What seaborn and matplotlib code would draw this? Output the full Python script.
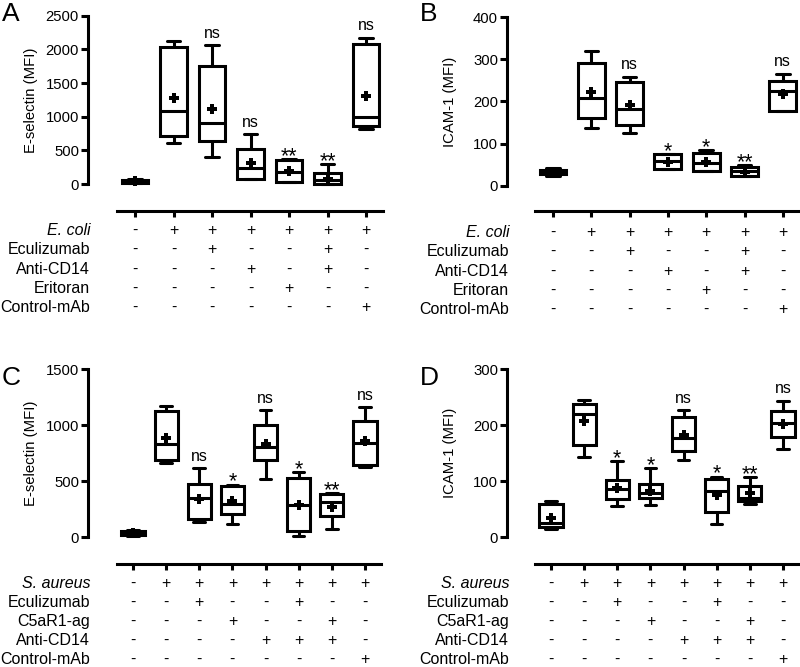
import numpy as np
import pandas as pd
import matplotlib
matplotlib.use("Agg")
import matplotlib.pyplot as plt
import seaborn as sns

sns.set_theme(style="ticks")
plt.rcParams["font.family"] = ["Liberation Sans", "DejaVu Sans"]

# ---------------- data ----------------
# Panel A: E-selectin, E. coli
a_min = [15, 604, 406, 74, 25, 5, 812]
a_q1 = [20, 717, 634, 74, 25, 5, 861]
a_med = [40, 1084, 901, 233, 174, 59, 1000]
a_q3 = [60, 2035, 1757, 524, 352, 168, 2075]
a_max = [70, 2128, 2060, 738, 367, 292, 2172]
a_mean = [40, 1281, 1109, 307, 190, 70, 1311]
a_sig = ["", "", "ns", "ns", "**", "**", "ns"]

# Panel B: ICAM-1, E. coli
b_min = [24, 138, 126, 40, 36, 24, 177]
b_q1 = [27, 161, 144, 40, 36, 24, 177]
b_med = [32, 209, 182, 58, 54, 35, 226]
b_q3 = [38, 291, 247, 75, 78, 44, 249]
b_max = [41, 320, 258, 75, 84, 49, 265]
b_mean = [31, 223, 191, 56, 56, 32, 217]
b_sig = ["", "", "ns", "*", "*", "**", "ns"]

# Panel C: E-selectin, S. aureus
c_min = [10, 661, 134, 116, 518, 14, 74, 630]
c_q1 = [18, 690, 163, 208, 690, 56, 193, 645]
c_med = [38, 833, 348, 297, 809, 288, 312, 839]
c_q3 = [58, 1128, 476, 458, 1003, 527, 384, 1038]
c_max = [68, 1171, 616, 470, 1134, 580, 396, 1160]
c_mean = [40, 884, 339, 320, 833, 290, 273, 860]
c_sig = ["", "", "ns", "*", "ns", "*", "**", "ns"]

# Panel D: ICAM-1, S. aureus
d_min = [15, 143, 56, 58, 138, 24, 60, 158]
d_q1 = [18, 164, 69, 70, 155, 46, 65, 179]
d_med = [26, 220, 86, 80, 177, 83, 71, 204]
d_q3 = [60, 238, 102, 96, 214, 105, 92, 226]
d_max = [65, 246, 136, 123, 227, 108, 107, 244]
d_mean = [35, 207, 88, 83, 183, 76, 79, 202]
d_sig = ["", "", "*", "*", "ns", "*", "**", "ns"]

ecoli_rows = ["E. coli", "Eculizumab", "Anti-CD14", "Eritoran", "Control-mAb"]
ecoli_table = [
    "-++++++",
    "--+--+-",
    "---+-+-",
    "----+--",
    "------+",
]
saureus_rows = ["S. aureus", "Eculizumab", "C5aR1-ag", "Anti-CD14", "Control-mAb"]
saureus_table = [
    "-+++++++",
    "--+--+--",
    "---+--+-",
    "----+++-",
    "-------+",
]

# ---------------- layout (pixels) ----------------
W, H = 800, 667
fig = plt.figure(figsize=(W / 100, H / 100), dpi=100)
LW = 2.2


def px_axes(left, top, right, bottom):
    return fig.add_axes([left / W, 1 - bottom / H, (right - left) / W, (bottom - top) / H])


panels = [
    dict(letter="A", stats=(a_min, a_q1, a_med, a_q3, a_max), mean=a_mean, sig=a_sig,
         ylabel="E-selectin (MFI)", ymax=2500, ystep=500,
         rows=ecoli_rows, table=ecoli_table,
         box=(88, 15.7, 383, 184), x0=135, dx=38.5, line=(117, 383), spine_y=211,
         row0=19.5, step=19.3, label_right=38, letter_xy=(2, 2)),
    dict(letter="B", stats=(b_min, b_q1, b_med, b_q3, b_max), mean=b_mean, sig=b_sig,
         ylabel="ICAM-1 (MFI)", ymax=400, ystep=100,
         rows=ecoli_rows, table=ecoli_table,
         box=(507, 17.3, 800, 185.7), x0=553, dx=38.3, line=(535, 800), spine_y=211,
         row0=21.5, step=19.3, label_right=457, letter_xy=(420, 2)),
    dict(letter="C", stats=(c_min, c_q1, c_med, c_q3, c_max), mean=c_mean, sig=c_sig,
         ylabel="E-selectin (MFI)", ymax=1500, ystep=500,
         rows=saureus_rows, table=saureus_table,
         box=(88, 369.3, 381, 537.3), x0=133, dx=33.14, line=(117, 381), spine_y=564,
         row0=19.5, step=19.0, label_right=38, letter_xy=(2, 366)),
    dict(letter="D", stats=(d_min, d_q1, d_med, d_q3, d_max), mean=d_mean, sig=d_sig,
         ylabel="ICAM-1 (MFI)", ymax=300, ystep=100,
         rows=saureus_rows, table=saureus_table,
         box=(507, 369.3, 800, 537.3), x0=551, dx=33.14, line=(535, 800), spine_y=564,
         row0=19.5, step=19.0, label_right=457, letter_xy=(420, 366)),
]

PT = 0.72        # points per pixel

for p in panels:
    left, top, right, bottom = p["box"]
    ax = px_axes(left, top, right, bottom)
    n = len(p["mean"])
    groups = [f"g{i}" for i in range(n)]
    mn, q1, md, q3, mx = p["stats"]
    df = pd.DataFrame({
        "group": np.repeat(groups, 5),
        "value": np.column_stack([mn, q1, md, q3, mx]).ravel(),
    })
    sns.boxplot(data=df, x="group", y="value", order=groups, whis=(0, 100),
                width=0.7, color="white", linecolor="black", linewidth=LW,
                showfliers=False, ax=ax)
    mdf = pd.DataFrame({"group": groups, "mean": p["mean"]})
    sns.pointplot(data=mdf, x="group", y="mean", order=groups, color="black",
                  marker="P", linestyle="none", markersize=7, markeredgewidth=0,
                  errorbar=None, ax=ax, zorder=5)

    # axes limits & spines
    xl = (left - p["x0"]) / p["dx"]
    xr = (right - p["x0"]) / p["dx"]
    ax.set_xlim(xl, xr)
    ax.set_ylim(0, p["ymax"])
    ax.set_yticks(np.arange(0, p["ymax"] + 1, p["ystep"]))
    ax.set_xticks(range(n))
    ax.set_xticklabels([""] * n)
    ax.set_xlabel("")
    for s in ("top", "right"):
        ax.spines[s].set_visible(False)
    for s in ("left", "bottom"):
        ax.spines[s].set_linewidth(LW)
        ax.spines[s].set_color("black")
    ax.spines["bottom"].set_position(("outward", (p["spine_y"] - bottom) * PT))
    ax.spines["bottom"].set_bounds((p["line"][0] - p["x0"]) / p["dx"],
                                   (p["line"][1] - p["x0"]) / p["dx"])
    ax.tick_params(axis="y", length=5, width=LW, pad=1.5, labelsize=10.7,
                   colors="black", direction="out")
    ax.tick_params(axis="x", length=4.5, width=LW, direction="out", colors="black")
    ax.set_facecolor("none")

    ax.set_ylabel(p["ylabel"], fontsize=10.7, color="black")
    ax.yaxis.set_label_coords((p["label_right"] - left) / (right - left), 0.5)

    # significance labels
    for i, (lab, top_val) in enumerate(zip(p["sig"], mx)):
        if not lab:
            continue
        if lab == "ns":
            ax.annotate(lab, xy=(i, top_val), xytext=(0, 5.5), textcoords="offset points",
                        ha="center", va="baseline", fontsize=11.5, color="black",
                        annotation_clip=False)
        else:
            ax.annotate(lab, xy=(i, top_val), xytext=(0, -2.0), textcoords="offset points",
                        ha="center", va="baseline", fontsize=15.5, color="black",
                        annotation_clip=False)

    # treatment table
    base = (p["spine_y"] - bottom)
    for r, (name, signs) in enumerate(zip(p["rows"], p["table"])):
        off = -(base + p["row0"] + r * p["step"]) * PT
        style = "italic" if r == 0 else "normal"
        ax.annotate(name, xy=(0, 0), xycoords="axes fraction", xytext=(1.5, off),
                    textcoords="offset points", ha="right", va="center",
                    fontsize=11.5, style=style, color="black", annotation_clip=False)
        for i, ch in enumerate(signs):
            ax.annotate(ch, xy=(i, 0), xycoords=("data", "axes fraction"),
                        xytext=(0, off), textcoords="offset points",
                        ha="center", va="center", fontsize=11.5, color="black",
                        annotation_clip=False)

    for art in ax.get_children():
        try:
            art.set_clip_on(False)
        except Exception:
            pass

    lx, ly = p["letter_xy"]
    fig.text(lx / W, 1 - ly / H, p["letter"], fontsize=19, ha="left", va="top",
             color="black")

fig.savefig("out.png", dpi=100, facecolor="white")
